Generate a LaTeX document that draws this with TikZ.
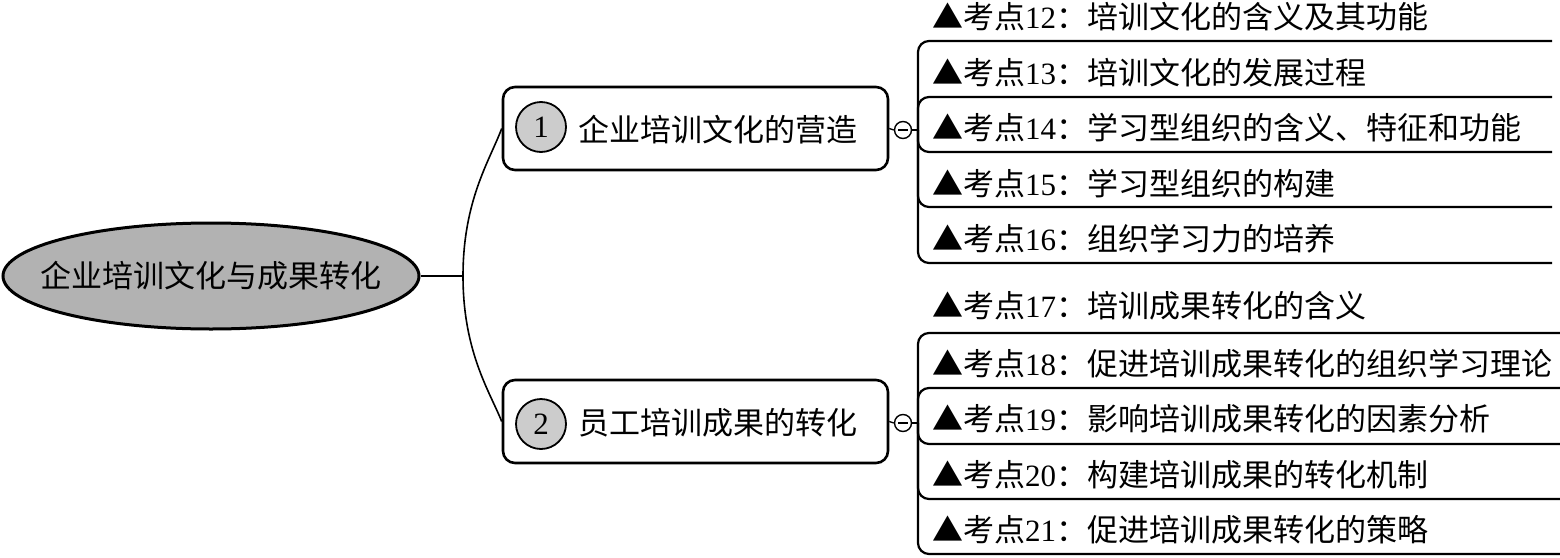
\documentclass[tikz,border=0pt]{standalone}
\usepackage{fontspec}
\setmainfont{Liberation Serif}
\newfontfamily\cjk{Noto Sans CJK SC}
\usetikzlibrary{shapes.geometric}
\newcommand\kdtext[2]{{\cjk ▲考点}#1{\cjk ：#2}}
\tikzset{
  leaf/.style={anchor=base west,inner sep=0pt,font=\fontsize{31}{36}\selectfont},
  ptext/.style={anchor=base west,inner sep=0pt,font=\fontsize{31}{36}\selectfont\cjk},
  pbox/.style={draw,line width=2.6pt,rounded corners=12pt,minimum width=385pt,minimum height=83pt,inner sep=0pt},
  numc/.style={circle,draw,line width=1.8pt,fill=black!20,minimum size=50pt,inner sep=0pt,font=\fontsize{31}{36}\selectfont},
  minusc/.style={circle,draw,line width=1.4pt,fill=white,minimum size=17pt,inner sep=0pt},
  conn/.style={line width=2.2pt,rounded corners=11pt},
  stem/.style={line width=1.3pt},
  rootc/.style={line width=1.6pt},
  rootn/.style={ellipse,draw,line width=3pt,fill=black!30,minimum width=416pt,minimum height=106pt,inner sep=0pt},
  roott/.style={inner sep=0pt,font=\fontsize{31}{36}\selectfont\cjk}
}
\begin{document}
\begin{tikzpicture}[x=1pt,y=-1pt]
\useasboundingbox (0,0) rectangle (1560,557);
% root
\node[rootn] (root) at (211,276) {};
\node[roott] (rt) at (root.center) {企业培训文化与成果转化};
% parent boxes
\node[pbox] (p1) at (695.5,128.5) {};
\node[pbox] (p2) at (695.5,421.5) {};
\node[numc] (c1) at (541,127) {1};
\node[numc] (c2) at (541,424) {2};
\node[ptext] (t1) at (578,141) {企业培训文化的营造};
\node[ptext] (t2) at (578,434) {员工培训成果的转化};
% minus toggles
\node[minusc] (m1) at (903,130) {};
\node[minusc] (m2) at (903,423) {};
\draw[line width=1.4pt] ([xshift=-5pt]m1.center) -- ([xshift=5pt]m1.center);
\draw[line width=1.4pt] ([xshift=-5pt]m2.center) -- ([xshift=5pt]m2.center);
\draw[stem] (p1.east) -- (m1.west);
\draw[stem] (p2.east) -- (m2.west);
\coordinate (j1) at (918,130);
\coordinate (j2) at (918,423);
\draw[stem] (m1.east) -- (j1);
\draw[stem] (m2.east) -- (j2);
% root connectors
\coordinate (rj) at (463,276);
\draw[rootc] (root.east) -- (rj);
\draw[rootc] (rj) .. controls (463,200) and (490,160) .. (p1.west);
\draw[rootc] (rj) .. controls (463,352) and (490,392) .. (p2.west);
% leaves group 1
\node[leaf] (l12) at (932,28) {\kdtext{12}{培训文化的含义及其功能}};
\node[leaf] (l13) at (932,84) {\kdtext{13}{培训文化的发展过程}};
\node[leaf] (l14) at (932,139) {\kdtext{14}{学习型组织的含义、特征和功能}};
\node[leaf] (l15) at (932,195) {\kdtext{15}{学习型组织的构建}};
\node[leaf] (l16) at (932,250) {\kdtext{16}{组织学习力的培养}};
\coordinate (u12) at (1552,41);
\coordinate (u13) at (1552,97);
\coordinate (u14) at (1552,152);
\coordinate (u15) at (1552,207);
\coordinate (u16) at (1552,263);
\foreach \u in {u12,u13,u14,u15,u16}{\draw[conn] (j1) |- (\u);}
% leaves group 2
\node[leaf] (l17) at (932,317) {\kdtext{17}{培训成果转化的含义}};
\node[leaf] (l18) at (932,375) {\kdtext{18}{促进培训成果转化的组织学习理论}};
\node[leaf] (l19) at (932,430) {\kdtext{19}{影响培训成果转化的因素分析}};
\node[leaf] (l20) at (932,486) {\kdtext{20}{构建培训成果的转化机制}};
\node[leaf] (l21) at (932,541) {\kdtext{21}{促进培训成果转化的策略}};
\coordinate (u17) at (1560,333);
\coordinate (u18) at (1560,388);
\coordinate (u19) at (1560,444);
\coordinate (u20) at (1560,499);
\coordinate (u21) at (1560,554);
\foreach \u in {u17,u18,u19,u20,u21}{\draw[conn] (j2) |- (\u);}
\end{tikzpicture}
\end{document}
